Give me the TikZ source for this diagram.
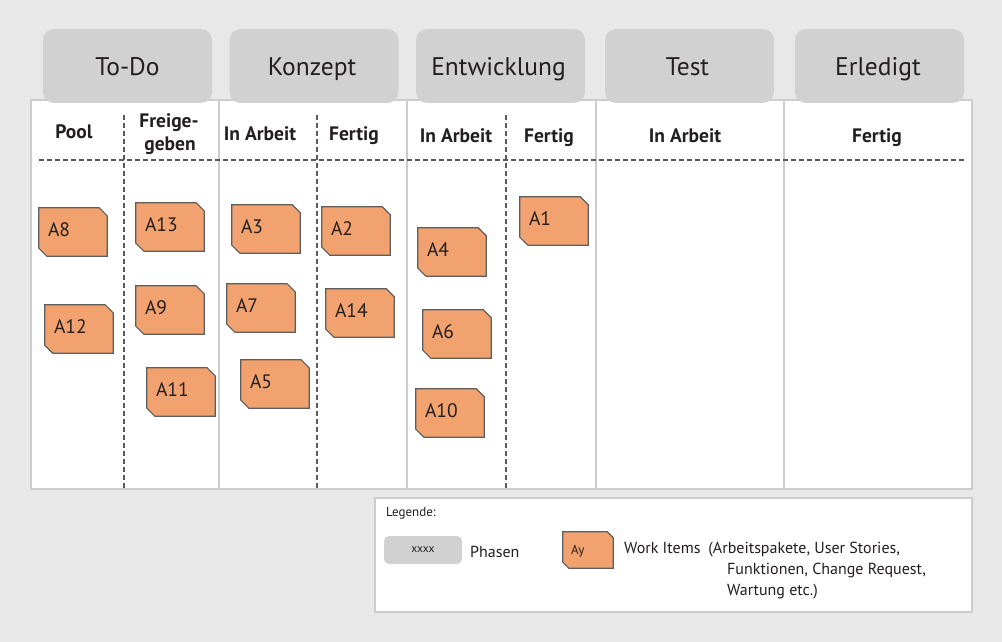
\documentclass[tikz,border=0pt]{standalone}
\usepackage{fontspec}
\setmainfont{PT Sans}
\definecolor{bg}{HTML}{E8E8E8}
\definecolor{tabgray}{HTML}{D1D1D1}
\definecolor{lineg}{HTML}{CDCDCD}
\definecolor{cardfill}{HTML}{F1A26E}
\definecolor{cardline}{HTML}{5E5E5E}
\definecolor{dashg}{HTML}{5A5A5A}
\definecolor{txt}{HTML}{231F20}
\tikzset{
 tab/.style={fill=tabgray, rounded corners=11pt, minimum width=169pt, minimum height=74pt, inner sep=0},
 tabtxt/.style={anchor=base, font=\fontsize{25.5}{29}\selectfont, text=txt, inner sep=0},
 sub/.style={anchor=base, font=\bfseries\fontsize{19.5}{22}\selectfont, text=txt, inner sep=0},
 colsep/.style={draw=lineg, line width=1.5pt},
 subsep/.style={draw=dashg, line width=1.3pt, dash pattern=on 5pt off 3pt},
 cardbox/.style={minimum width=68pt, minimum height=48pt, inner sep=0},
 cardedge/.style={fill=cardfill, draw=cardline, line width=1.2pt, line join=miter},
 cardlbl/.style={anchor=base west, font=\fontsize{19.5}{21}\selectfont, text=txt, inner sep=0},
 legtxt/.style={anchor=base west, font=\fontsize{16}{19}\selectfont, text=txt, inner sep=0},
}
\newcommand\wcard[3]{%
 \node[cardbox] (c#1) at ({#2+34},{#3+24}) {};
 \path[cardedge] (c#1.north west) -- ([xshift=-8pt]c#1.north east) -- ([yshift=-8pt]c#1.north east)
   -- (c#1.south east) -- ([xshift=8pt]c#1.south west) -- ([yshift=8pt]c#1.south west) -- cycle;
 \node[cardlbl] (l#1) at ([xshift=9pt,yshift=-4pt]c#1.west) {#1};
}
\begin{document}
\begin{tikzpicture}[x=1pt,y=-1pt]
\useasboundingbox (0,0) rectangle (1002,642);
\fill[bg] (0,0) rectangle (1002,642);
% board
\node[draw=lineg, line width=1.5pt, fill=white, minimum width=941pt, minimum height=389pt, inner sep=0] (board) at (501.5,294.5) {};
% column separators
\coordinate (s1t) at (219,100); \coordinate (s1b) at (219,489);
\coordinate (s2t) at (407,100); \coordinate (s2b) at (407,489);
\coordinate (s3t) at (596,100); \coordinate (s3b) at (596,489);
\coordinate (s4t) at (784,100); \coordinate (s4b) at (784,489);
\draw[colsep] (s1t) -- (s1b);
\draw[colsep] (s2t) -- (s2b);
\draw[colsep] (s3t) -- (s3b);
\draw[colsep] (s4t) -- (s4b);
% dashed sub separators
\coordinate (d1t) at (124,115); \coordinate (d1b) at (124,489);
\coordinate (d2t) at (317,115); \coordinate (d2b) at (317,489);
\coordinate (d3t) at (506,115); \coordinate (d3b) at (506,489);
\coordinate (hl) at (39,160); \coordinate (hr) at (965,160);
\draw[subsep] (d1t) -- (d1b);
\draw[subsep] (d2t) -- (d2b);
\draw[subsep] (d3t) -- (d3b);
\draw[subsep] (hl) -- (hr);
% phase tabs
\node[tab] (todo) at (127.5,66) {};
\node[tab] (konzept) at (314,66) {};
\node[tab] (entw) at (500.5,66) {};
\node[tab] (test) at (689.5,66) {};
\node[tab] (erl) at (879.5,66) {};
\node[tabtxt] (todot) at (127.5,76) {To-Do};
\node[tabtxt] (konzeptt) at (312,76) {Konzept};
\node[tabtxt] (entwt) at (498.5,76) {Entwicklung};
\node[tabtxt] (testt) at (687.5,76) {Test};
\node[tabtxt] (erlt) at (878,76) {Erledigt};
% sub headers
\node[sub] (pool) at (74,138) {Pool};
\node[sub] (frei1) at (169,128) {Freige-};
\node[sub] (frei2) at (170,150) {geben};
\node[sub] (kia) at (260,140) {In Arbeit};
\node[sub] (kf) at (354,140) {Fertig};
\node[sub] (eia) at (456,142) {In Arbeit};
\node[sub] (ef) at (549,142) {Fertig};
\node[sub] (tia) at (685,142) {In Arbeit};
\node[sub] (erf) at (877,142) {Fertig};
% work items
\wcard{A8}{39}{208}
\wcard{A13}{136}{203}
\wcard{A3}{232}{205}
\wcard{A2}{322}{207}
\wcard{A4}{418}{228}
\wcard{A1}{520}{197}
\wcard{A12}{45}{305}
\wcard{A9}{136}{286}
\wcard{A7}{227}{284}
\wcard{A14}{326}{289}
\wcard{A6}{423}{310}
\wcard{A11}{147}{368}
\wcard{A5}{241}{360}
\wcard{A10}{416}{389}
% legend
\node[draw=lineg, line width=1.5pt, fill=white, minimum width=597pt, minimum height=114pt, inner sep=0] (legend) at (673.5,555) {};
\node[anchor=base west, font=\fontsize{13}{15}\selectfont, text=txt, inner sep=0] (legt) at (386,516) {Legende:};
\node[fill=tabgray, rounded corners=5pt, minimum width=78pt, minimum height=28pt, inner sep=0, font=\fontsize{11.5}{13}\selectfont, text=txt] (legph) at (423,550) {xxxx};
\node[legtxt] (phasen) at (470,557) {Phasen};
\node[minimum width=50pt, minimum height=36pt, inner sep=0] (legc) at (588,550) {};
\path[cardedge] (legc.north west) -- ([xshift=-6pt]legc.north east) -- ([yshift=-6pt]legc.north east)
   -- (legc.south east) -- ([xshift=6pt]legc.south west) -- ([yshift=6pt]legc.south west) -- cycle;
\node[anchor=base west, font=\fontsize{13}{15}\selectfont, text=txt, inner sep=0] (legay) at (571,554) {Ay};
\node[legtxt] (wi1) at (624,553) {Work Items\hspace{8pt}(Arbeitspakete, User Stories,};
\node[legtxt] (wi2) at (727,574) {Funktionen, Change Request,};
\node[legtxt] (wi3) at (727,595) {Wartung etc.)};
\end{tikzpicture}
\end{document}
